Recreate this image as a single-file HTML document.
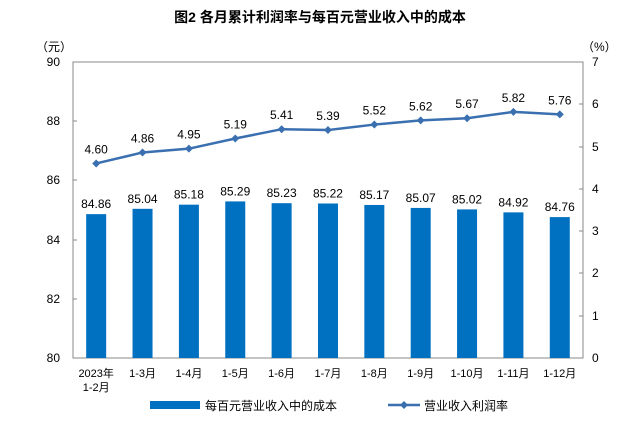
<!DOCTYPE html>
<html><head><meta charset="utf-8"><style>
body{margin:0;background:#fff;}
svg text{font-family:"Liberation Sans","Noto Sans CJK SC",sans-serif;fill:#000;}
</style></head><body>
<svg width="641" height="429" viewBox="0 0 641 429" xmlns="http://www.w3.org/2000/svg">
<text x="320" y="22" font-size="14" text-anchor="middle" font-weight="bold">图2  各月累计利润率与每百元营业收入中的成本</text>
<text x="36" y="51" font-size="12">（元）</text>
<text x="582" y="51" font-size="12">（%）</text>
<rect x="73" y="62" width="510" height="296" fill="none" stroke="#888" stroke-width="1"/>
<g font-size="12" text-anchor="end">
<text x="60" y="66">90</text><text x="60" y="125">88</text><text x="60" y="184">86</text>
<text x="60" y="244">84</text><text x="60" y="303">82</text><text x="60" y="362">80</text>
</g>
<g font-size="12" text-anchor="start">
<text x="592" y="66">7</text><text x="592" y="108">6</text><text x="592" y="151">5</text>
<text x="592" y="193">4</text><text x="592" y="235">3</text><text x="592" y="277">2</text>
<text x="592" y="320">1</text><text x="592" y="362">0</text>
</g>
<g stroke="#888" stroke-width="1">
<line x1="73" y1="121" x2="77" y2="121"/><line x1="73" y1="180" x2="77" y2="180"/><line x1="73" y1="240" x2="77" y2="240"/><line x1="73" y1="299" x2="77" y2="299"/>
<line x1="579" y1="104" x2="583" y2="104"/><line x1="579" y1="147" x2="583" y2="147"/><line x1="579" y1="189" x2="583" y2="189"/><line x1="579" y1="231" x2="583" y2="231"/><line x1="579" y1="273" x2="583" y2="273"/><line x1="579" y1="316" x2="583" y2="316"/>
</g>
<g id="bars" fill="#0070C0"></g>
<g id="blabels" font-size="12" text-anchor="middle"></g>
<g id="xlabels" font-size="11" text-anchor="middle"></g>
<polyline id="line" fill="none" stroke="#3A6FB0" stroke-width="2.5"/>
<g id="marks" fill="#3A6FB0"></g>
<g id="llabels" font-size="12" text-anchor="middle"></g>
<rect x="150" y="401" width="50" height="8" fill="#0070C0"/>
<text x="205" y="410" font-size="12">每百元营业收入中的成本</text>
<line x1="388" y1="405" x2="420" y2="405" stroke="#3A6FB0" stroke-width="2.5"/>
<path d="M404 401 L408 405 L404 409 L400 405Z" fill="#3A6FB0"/>
<text x="424" y="410" font-size="12">营业收入利润率</text>
<script>
var b=[84.86,85.04,85.18,85.29,85.23,85.22,85.17,85.07,85.02,84.92,84.76];
var l=[4.60,4.86,4.95,5.19,5.41,5.39,5.52,5.62,5.67,5.82,5.76];
var xl=["1-3月","1-4月","1-5月","1-6月","1-7月","1-8月","1-9月","1-10月","1-11月","1-12月"];
var ns="http://www.w3.org/2000/svg",pts=[];
function el(p,t,a,txt){var e=document.createElementNS(ns,t);for(var k in a)e.setAttribute(k,a[k]);if(txt)e.textContent=txt;document.getElementById(p).appendChild(e);}
for(var i=0;i<11;i++){var cx=73+46.36*(i+0.5);var y=358-(b[i]-80)*29.6;
el("bars","rect",{x:cx-10,y:y,width:20,height:358-y});
el("blabels","text",{x:cx,y:y-6},b[i].toFixed(2));
var ly=358-l[i]*42.29;pts.push(cx+","+ly);
el("marks","path",{d:"M"+cx+" "+(ly-4)+" L"+(cx+4)+" "+ly+" L"+cx+" "+(ly+4)+" L"+(cx-4)+" "+ly+"Z"});
el("llabels","text",{x:cx,y:ly-10},l[i].toFixed(2));
if(i==0){el("xlabels","text",{x:cx,y:377},"2023年");el("xlabels","text",{x:cx,y:391},"1-2月");}
else el("xlabels","text",{x:cx,y:377},xl[i-1]);}
document.getElementById("line").setAttribute("points",pts.join(" "));
</script>
</svg>
</body></html>
